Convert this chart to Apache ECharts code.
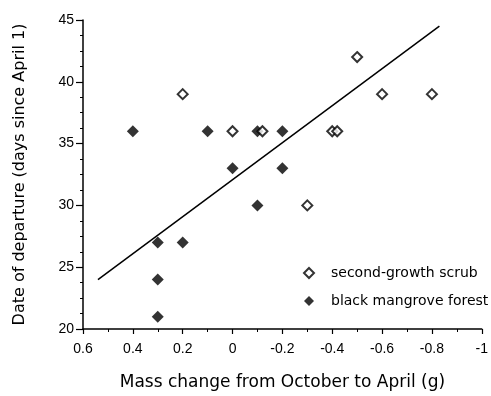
<!DOCTYPE html>
<html>
<head>
<meta charset="utf-8">
<script src="https://cdn.jsdelivr.net/npm/echarts@6/dist/echarts.min.js"></script>
<style>
html,body{margin:0;padding:0;background:#fff;}
#chart{width:491px;height:396px;}
</style>
</head>
<body>
<div id="chart"></div>
<script>
// Data
var scrubX = [0.2, 0, -0.12, -0.5, -0.6, -0.8, -0.4, -0.42, -0.3];
var scrubY = [39, 36, 36, 42, 39, 39, 36, 36, 30];
var mangroveX = [0.4, 0.1, 0, -0.1, -0.2, -0.2, -0.1, 0.3, 0.3, 0.3, 0.2];
var mangroveY = [36, 36, 33, 36, 36, 33, 30, 27, 24, 21, 27];
var regX = [0.54, -0.83];
var regY = [24.0, 44.5];
var seriesNames = ['second-growth scrub', 'black mangrove forest'];

function pairs(xs, ys) { return xs.map(function (x, i) { return [x, ys[i]]; }); }

var FONT = 'DejaVu Sans, Liberation Sans, Arial, sans-serif';
var TFONT = 'Liberation Sans, Arial, Helvetica, sans-serif';
var chart = echarts.init(document.getElementById('chart'), null, {renderer: 'canvas'});
chart.setOption({
  animation: false,
  backgroundColor: '#fff',
  grid: {left: 83, right: 7, top: 20, bottom: 60},
  legend: {
    orient: 'vertical',
    left: 303, top: 266, padding: 0,
    itemWidth: 10, itemHeight: 10, itemGap: 14,
    data: seriesNames,
    textStyle: {fontFamily: FONT, fontSize: 14, color: '#000', padding: [0, 0, 0, 12]}
  },
  xAxis: {
    type: 'value', inverse: true, min: -1, max: 0.6, interval: 0.2,
    name: 'Mass change from October to April (g)',
    nameLocation: 'middle', nameGap: 45,
    nameTextStyle: {fontFamily: FONT, fontSize: 17, color: '#000'},
    axisLine: {show: true, onZero: false, lineStyle: {color: '#000', width: 1.5}},
    axisTick: {show: true, length: 5, lineStyle: {color: '#000', width: 1.2}},
    minorTick: {show: true, splitNumber: 2, length: 3, lineStyle: {color: '#000', width: 1}},
    splitLine: {show: false},
    axisLabel: {fontFamily: TFONT, fontSize: 14, color: '#000', margin: 13,
      formatter: function (v) { return String(Number(v.toFixed(1))); }}
  },
  yAxis: {
    type: 'value', min: 20, max: 45, interval: 5,
    name: 'Date of departure (days since April 1)',
    nameLocation: 'middle', nameGap: 55,
    nameTextStyle: {fontFamily: FONT, fontSize: 16, color: '#000'},
    axisLine: {show: true, onZero: false, lineStyle: {color: '#000', width: 1.5}},
    axisTick: {show: true, length: 7, lineStyle: {color: '#000', width: 1.2}},
    minorTick: {show: true, splitNumber: 4, length: 3, lineStyle: {color: '#000', width: 1}},
    splitLine: {show: false},
    axisLabel: {fontFamily: TFONT, fontSize: 14, color: '#000', margin: 9}
  },
  series: [
    {
      name: seriesNames[0], type: 'scatter', symbol: 'diamond', symbolSize: 10,
      itemStyle: {color: '#fff', borderColor: '#000', borderWidth: 2},
      data: pairs(scrubX, scrubY), z: 3
    },
    {
      name: seriesNames[1], type: 'scatter', symbol: 'diamond', symbolSize: 12,
      itemStyle: {color: '#000'},
      data: pairs(mangroveX, mangroveY), z: 2
    },
    {
      name: 'fit', type: 'line', showSymbol: false, symbol: 'none',
      lineStyle: {color: '#000', width: 1.5},
      data: pairs(regX, regY), z: 1
    }
  ]
});
</script>
</body>
</html>
